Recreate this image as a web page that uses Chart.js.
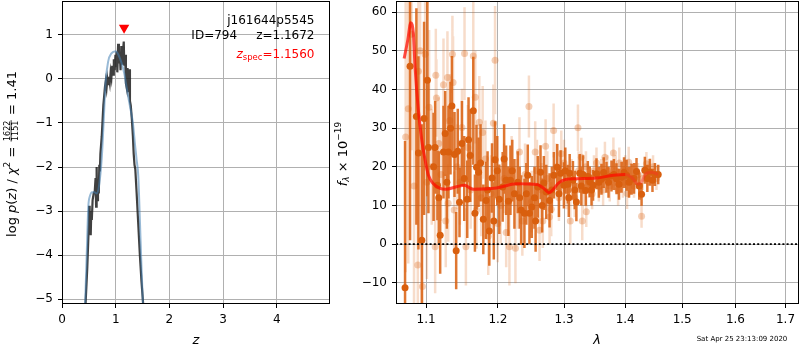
<!DOCTYPE html>
<html>
<head>
<meta charset="utf-8">
<script src="https://cdn.jsdelivr.net/npm/chart.js@4.4.1/dist/chart.umd.min.js"></script>
<style>
  html, body { margin: 0; padding: 0; background: #fff; }
  #wrap { position: relative; width: 800px; height: 350px; overflow: hidden; }
  #wrap canvas { position: absolute; left: 0; top: 0; }
</style>
</head>
<body>
<div id="wrap">
  <canvas id="pz" width="800" height="350"></canvas>
  <canvas id="spec" width="800" height="350"></canvas>
</div>
<script>
// ---- object info ----
const objName = 'j161644p5545';
const objId = 794;
const zPhot = 1.1672;
const zSpec = 1.1560;
const chi2 = 1622;
const nDof = 1151;
const stamp = 'Sat Apr 25 23:13:09 2020';

// ---- p(z) panel ----
const zTicks = [0, 1, 2, 3, 4];
const logPTicks = [-5, -4, -3, -2, -1, 0, 1];
const zRange = [0, 4.99];
const logPRange = [-5.11, 1.77];

// smooth prior-weighted curve
const pzZ   = [0.43, 0.46, 0.49, 0.52, 0.56, 0.60, 0.645, 0.69, 0.74, 0.78,
               0.81, 0.86, 0.92, 1.00, 1.05, 1.11, 1.16, 1.20, 1.24, 1.27,
               1.32, 1.36, 1.39, 1.42, 1.45, 1.48, 1.51];
const pzLog = [-5.15, -4.0, -2.9, -2.66, -2.57, -2.57, -2.6, -2.42, -1.8, -0.85,
               -0.1, 0.4, 0.58, 0.63, 0.55, 0.36, 0.12, -0.17, -0.45, -0.65,
               -1.0, -1.5, -1.84, -2.2, -3.2, -4.27, -5.2];

// chi-square based curve on the fit grid
const chiZ    = [0.435, 0.47, 0.50, 0.505, 0.515, 0.525, 0.535, 0.545, 0.555, 0.57,
                 0.59, 0.61, 0.625, 0.635, 0.645, 0.655, 0.67, 0.685, 0.695, 0.705,
                 0.715, 0.74, 0.77, 0.80, 0.815, 0.83, 0.845, 0.86, 0.875, 0.89,
                 0.905, 0.92, 0.935, 0.95, 0.965, 0.98, 0.995, 1.005, 1.02, 1.03,
                 1.045, 1.06, 1.075, 1.09, 1.105, 1.12, 1.135, 1.15, 1.16, 1.175,
                 1.19, 1.205, 1.22, 1.235, 1.25, 1.265, 1.28, 1.30, 1.32, 1.335,
                 1.35, 1.365, 1.39, 1.42, 1.45, 1.48, 1.52];
const chiLogP = [-5.2, -4.3, -3.3, -2.88, -3.5, -3.1, -3.55, -3.0, -3.2, -2.75,
                 -2.6, -2.55, -2.25, -2.9, -2.0, -2.75, -2.3, -2.6, -1.95, -2.1,
                 -1.7, -1.3, -0.6, -0.18, -0.05, -0.2, 0.0, -0.12, 0.05, -0.08,
                 0.15, 0.03, 0.3, 0.1, 0.45, 0.2, 0.55, 0.28, 0.62, 0.15,
                 0.8, 0.35, 0.6, 0.2, 0.75, 0.35, 0.62, 0.85, 0.3, 0.55,
                 -0.1, -0.2, 0.25, -0.3, 0.22, -0.5, -0.6, -0.9, -1.3, -1.7,
                 -1.95, -2.05, -2.6, -3.3, -4.0, -4.6, -5.25];
const zSpecMarkY = 1.16;

// ---- spectrum panel ----
const lamTicks = [1.1, 1.2, 1.3, 1.4, 1.5, 1.6, 1.7];
const fluxTicks = [-10, 0, 10, 20, 30, 40, 50, 60];
const lamRange = [1.0606, 1.728];
const fluxRange = [-15.5, 62.9];

// primary spectrum
const specLam = [1.0723, 1.0788, 1.0871, 1.0898, 1.0943, 1.0973, 1.1017, 1.1031, 1.1100, 1.1121,
                 1.1152, 1.1170, 1.1189, 1.1234, 1.1257, 1.1280, 1.1302, 1.1330, 1.1349, 1.1385,
                 1.1408, 1.1430, 1.1454, 1.1488, 1.1520, 1.1562, 1.1580, 1.1604, 1.1647, 1.1670,
                 1.1693, 1.1722, 1.1750, 1.1789, 1.1828, 1.1850, 1.1875, 1.1914, 1.1940, 1.1958,
                 1.1990, 1.2020, 1.2069, 1.2090, 1.2119, 1.2153, 1.2183, 1.2210, 1.2242, 1.2291,
                 1.2320, 1.2342, 1.2391, 1.2420, 1.2441, 1.2467, 1.2502, 1.2543, 1.2560, 1.2593,
                 1.2635, 1.2660, 1.2686, 1.2723, 1.2774, 1.2810, 1.2841, 1.2894, 1.2920, 1.2946,
                 1.2998, 1.3020, 1.3062, 1.3075, 1.3089, 1.3141, 1.3170, 1.3196, 1.3249, 1.3275,
                 1.3302, 1.3346, 1.3380, 1.3411, 1.3440, 1.3465, 1.3521, 1.3560, 1.3603, 1.3640,
                 1.3686, 1.3720, 1.3769, 1.3810, 1.3853, 1.3895, 1.3938, 1.3980, 1.4023, 1.4065,
                 1.4108, 1.4150, 1.4193, 1.4240, 1.4280, 1.4337, 1.4380, 1.4425, 1.4470, 1.4513, 1.4571];
const specFlux = [-11.3, 46, 33, 23.6, 1.0, 32.5, 42.4, 25, 20, 25,
                  15.2, 12, 2.3, 23.8, 28.6, 16, 23.8, 30, 35.7, 23.2,
                  -1.7, 24, 10.8, 26, 17, 11.6, 27, 22.9, 34.5, 8,
                  19.9, 18.6, 21, 6.4, 11.3, 14, 3.4, 17.1, 6, 21.8,
                  19, 11.6, 14.8, 22, 16.5, 11.1, 16.5, 19, 13, 16,
                  12, 8.8, 8, 13, 17.8, 8, 9.6, 12, 6, 14.8,
                  18.6, 10, 15.8, 13.5, 11.3, 14, 17.8, 19.9, 13, 18.3,
                  15.2, 19, 15.5, 12, 18.3, 16.5, 14, 10.9, 18.3, 15,
                  18, 13.9, 17.5, 16.1, 14, 15.2, 18.2, 16, 16.8, 18.5,
                  17.3, 16, 17.6, 18, 16.9, 15.5, 17.3, 18.5, 17.8, 16,
                  16.8, 17, 18.8, 15, 12.9, 19.1, 17, 18.6, 16.5, 18, 18];
const specErr = [38, 45, 28, 25, 30, 25, 30, 17, 14, 12,
                 9, 12, 10, 12, 11, 12, 12, 12, 13, 11,
                 10, 11, 9, 11, 11, 10, 11, 12, 14, 10,
                 11, 9, 10, 9, 10, 10, 9, 9, 10, 10,
                 9, 9, 9, 9, 9, 9, 9, 8, 9, 8,
                 8, 9, 9, 8, 8, 8, 8, 8, 8, 8,
                 7, 7, 7, 7, 7, 6, 6, 6, 6, 6,
                 6, 6, 5, 5, 5, 5, 5, 5, 5, 5,
                 5, 4, 4, 4, 4, 4, 4, 4, 4, 4,
                 4, 4, 4, 4, 4, 4, 4, 4, 4, 4,
                 4, 4, 3.5, 3.5, 3, 3.5, 3.5, 3.5, 3, 3, 2.5];

// secondary (faint) spectrum
const altLam = [1.0731, 1.0765, 1.0807, 1.0840, 1.0890, 1.0898, 1.0920, 1.0951, 1.0987, 1.1010,
                1.1040, 1.1075, 1.1121, 1.1130, 1.1138, 1.1170, 1.1200, 1.1234, 1.1265, 1.1288,
                1.1298, 1.1320, 1.1356, 1.1365, 1.1380, 1.1420, 1.1460, 1.1488, 1.1524, 1.1543,
                1.1570, 1.1610, 1.1647, 1.1675, 1.1693, 1.1732, 1.1760, 1.1780, 1.1820, 1.1860,
                1.1900, 1.1934, 1.1958, 1.1997, 1.2040, 1.2090, 1.2120, 1.2168, 1.2200, 1.2257,
                1.2280, 1.2317, 1.2360, 1.2400, 1.2459, 1.2500, 1.2554, 1.2580, 1.2620, 1.2650,
                1.2670, 1.2713, 1.2740, 1.2774, 1.2800, 1.2837, 1.2880, 1.2920, 1.2957, 1.3000,
                1.3040, 1.3099, 1.3120, 1.3170, 1.3221, 1.3230, 1.3275, 1.3290, 1.3300, 1.3350,
                1.3355, 1.3400, 1.3450, 1.3480, 1.3521, 1.3560, 1.3600, 1.3630, 1.3660, 1.3700,
                1.3740, 1.3801, 1.3840, 1.3880, 1.3900, 1.3960, 1.4000, 1.4031, 1.4059, 1.4090,
                1.4150, 1.4220, 1.4280, 1.4300, 1.4364, 1.4400, 1.4480, 1.4540];
const altFlux = [27.7, 35, 54.3, 15, -5.4, 44.7, 50, -11, 49.1, 16,
                 35.4, 20, -0.7, 43.7, 37.8, 26, 18, 41.2, 6, 43.1,
                 10.6, 32, 49.1, 41.8, 8.8, 20, 16, 30.2, 49.3, -0.7,
                 25, 14, 48.7, 38, 8.8, 31.5, 12, 28.9, 22, 2,
                 13, 31.3, 47.6, 5.3, 10, 17, 3, -0.7, 19, -1.1,
                 13, 23.8, 6, 18, 35.6, 11, 23.8, 19, 3.6, 14,
                 6, 25.3, 17, 7, 9, 29.4, 20, 12, 23.4, 21,
                 14, 6, 17, 12, 30.1, 19, 22.5, 6, 14, 20,
                 8.4, 16, 13, 19, 21, 15, 18, 14, 22.5, 19,
                 15, 23.6, 19, 14, 21, 16, 19, 13.1, 21.2, 17,
                 15, 18, 7.2, 17, 20.8, 19, 20, 17];
const altErr = [35, 40, 30, 35, 30, 35, 30, 25, 30, 25,
                20, 15, 12, 12, 10, 12, 12, 12, 12, 12,
                10, 12, 10, 12, 10, 11, 11, 10, 12, 10,
                11, 10, 14, 12, 10, 12, 10, 12, 10, 10,
                10, 10, 14, 10, 10, 9, 9, 10, 9, 9,
                9, 9, 9, 8, 8, 8, 8, 8, 8, 7,
                7, 7, 7, 7, 7, 7, 6, 6, 6, 6,
                5, 6, 5, 5, 6, 5, 5, 5, 5, 4,
                4, 4, 4, 4, 4, 4, 4, 4, 4, 4,
                4, 4, 4, 4, 4, 4, 4, 4, 4, 4,
                3, 3, 3, 3, 3, 3, 3, 3];

// best-fit template
const modelLam  = [1.0711, 1.0760, 1.0797, 1.0832, 1.0854, 1.0898, 1.0943, 1.0988, 1.1031, 1.1098,
                   1.1189, 1.1265, 1.1424, 1.1523, 1.1641, 1.1977, 1.2276, 1.2583, 1.2686, 1.2764,
                   1.2817, 1.2922, 1.3029, 1.3196, 1.3521, 1.3801, 1.4000, 1.4108, 1.4222, 1.4280,
                   1.4354, 1.4454, 1.4571];
const modelFlux = [48, 53, 57.3, 54.3, 45.7, 34.5, 26.8, 21.6, 17.8, 15.6,
                   14.4, 14.2, 14.9, 15.2, 14.2, 14.5, 15.6, 15.4, 14.4, 13.3,
                   13.9, 15.9, 16.7, 16.9, 17.1, 17.8, 18.0, 17.3, 15.5, 16.1,
                   18.2, 18.6, 18.0];

// ---------------------------------------------------------------
const FAMILY = "'DejaVu Sans', sans-serif";
Chart.defaults.font.family = FAMILY;
Chart.defaults.font.size = 12;
Chart.defaults.color = '#000';
Chart.defaults.animation = false;
Chart.defaults.events = [];

const f = (px, style) => (style ? style + ' ' : '') + px + 'px ' + FAMILY;
const fmtMinus = v => (v < 0 ? '\u2212' : '') + Math.abs(v);
const xy = (xs, ys) => xs.map((x, i) => ({ x, y: ys[i] }));
const errSegments = (xs, ys, es) => {
  const out = [];
  xs.forEach((x, i) => {
    out.push({ x, y: ys[i] - es[i] }, { x, y: ys[i] + es[i] }, { x, y: null });
  });
  return out;
};

function scaleOpts(type, range, ticks, fmt, fixed) {
  return {
    type,
    min: range[0],
    max: range[1],
    afterBuildTicks: s => { s.ticks = ticks.map(value => ({ value })); },
    afterFit: s => {
      if (fixed.w) s.width = fixed.w;
      if (fixed.h) s.height = fixed.h;
      // keep the plot frame exactly where the layout padding puts it
      s.paddingTop = 0; s.paddingBottom = 0; s.paddingLeft = 0; s.paddingRight = 0;
    },
    grid: { color: '#b0b0b0', lineWidth: 1, tickColor: '#000', tickLength: 4, tickWidth: 1 },
    border: { display: false },
    ticks: { padding: 5, autoSkip: false, maxRotation: 0, minRotation: 0,
             color: '#000', font: { size: 12 }, callback: v => fmt(v) }
  };
}

function measureRun(ctx, r) {
  ctx.font = r.font;
  if (r.frac) return Math.max(ctx.measureText(r.frac[0]).width, ctx.measureText(r.frac[1]).width) + 3;
  return ctx.measureText(r.t).width;
}
function drawRuns(ctx, runs, x, y, align, color) {
  const ws = runs.map(r => measureRun(ctx, r));
  const total = ws.reduce((a, b) => a + b, 0);
  let cx = align === 'right' ? x - total : align === 'center' ? x - total / 2 : x;
  ctx.textBaseline = 'alphabetic';
  runs.forEach((r, i) => {
    ctx.fillStyle = r.color || color || '#000';
    ctx.font = r.font;
    if (r.frac) {
      const w = ws[i], mid = cx + w / 2, ax = y - 4.4;
      ctx.textAlign = 'center';
      ctx.fillText(r.frac[0], mid, ax - 1.2);
      ctx.fillText(r.frac[1], mid, ax + 7.2);
      ctx.fillRect(cx + 1, ax - 0.4, w - 2, 0.8);
      ctx.textAlign = 'left';
    } else {
      ctx.fillText(r.t, cx, y + (r.dy || 0));
    }
    cx += ws[i];
  });
}
function drawFrame(chart) {
  const { ctx, chartArea: a } = chart;
  ctx.save();
  ctx.strokeStyle = '#000';
  ctx.lineWidth = 1;
  ctx.strokeRect(Math.round(a.left) + 0.5, Math.round(a.top) + 0.5,
                 Math.round(a.right - a.left) - 1, Math.round(a.bottom - a.top) - 1);
  ctx.restore();
}

// ---- p(z) chart ----
const pzLabels = {
  id: 'pzLabels',
  afterDraw(chart) {
    drawFrame(chart);
    const ctx = chart.ctx;
    const red = '#ff0000';
    ctx.save();
    ctx.textAlign = 'left';
    drawRuns(ctx, [{ t: objName, font: f(12) }], 314.5, 24, 'right');
    drawRuns(ctx, [{ t: 'ID=' + objId + '     z=' + zPhot.toFixed(4), font: f(12) }], 314.5, 39, 'right');
    drawRuns(ctx, [
      { t: 'z', font: f(12, 'italic'), color: red },
      { t: 'spec', font: f(8.5), dy: 2.5, color: red },
      { t: '=' + zSpec.toFixed(4), font: f(12), color: red }
    ], 314.5, 57.5, 'right');
    drawRuns(ctx, [{ t: 'z', font: f(13, 'italic') }], 196, 344, 'center');

    ctx.translate(15.5, 154);
    ctx.rotate(-Math.PI / 2);
    drawRuns(ctx, [
      { t: 'log ', font: f(13) },
      { t: 'p', font: f(13, 'italic') },
      { t: '(', font: f(13) },
      { t: 'z', font: f(13, 'italic') },
      { t: ') / ', font: f(13) },
      { t: '\u03c7', font: f(13, 'italic') },
      { t: '2', font: f(9), dy: -5.5 },
      { t: ' = ', font: f(13) },
      { frac: [String(chi2), String(nDof)], font: f(8) },
      { t: ' = ' + (chi2 / nDof).toFixed(2), font: f(13) }
    ], 0, 0, 'center');
    ctx.restore();
  }
};

new Chart(document.getElementById('pz'), {
  type: 'scatter',
  data: {
    datasets: [
      { // spec-z marker
        data: [{ x: zSpec, y: zSpecMarkY }],
        pointStyle: 'triangle', rotation: 180, pointRadius: 6,
        pointBackgroundColor: '#ff0000', pointBorderWidth: 0, order: 0, clip: false
      },
      {
        data: xy(pzZ, pzLog), showLine: true, pointRadius: 0,
        borderColor: 'rgba(70,130,180,0.55)', borderWidth: 2,
        cubicInterpolationMode: 'monotone', order: 1, clip: 0
      },
      {
        data: xy(chiZ, chiLogP), showLine: true, pointRadius: 0,
        borderColor: 'rgba(30,30,30,0.85)', borderWidth: 2.2, tension: 0,
        order: 2, clip: 0
      }
    ]
  },
  options: {
    responsive: false,
    layout: { autoPadding: false, padding: { left: 0, top: 1, right: 470, bottom: 0 } },
    plugins: { legend: { display: false }, tooltip: { enabled: false } },
    scales: {
      x: scaleOpts('linear', zRange, zTicks, v => String(v), { h: 46 }),
      y: scaleOpts('linear', logPRange, logPTicks, fmtMinus, { w: 62 })
    }
  },
  plugins: [pzLabels]
});

// ---- spectrum chart ----
const specLabels = {
  id: 'specLabels',
  afterDraw(chart) {
    drawFrame(chart);
    const ctx = chart.ctx;
    ctx.save();
    ctx.textAlign = 'left';
    drawRuns(ctx, [{ t: '\u03bb', font: f(13, 'italic') }], 597, 344, 'center');
    drawRuns(ctx, [{ t: stamp, font: f(7) }], 742, 341, 'center');
    ctx.translate(346.5, 154);
    ctx.rotate(-Math.PI / 2);
    drawRuns(ctx, [
      { t: 'f', font: f(13, 'italic') },
      { t: '\u03bb', font: f(9, 'italic'), dy: 2.5 },
      { t: ' \u00d7 10', font: f(13) },
      { t: '\u221219', font: f(9), dy: -5.5 }
    ], 0, 0, 'center');
    ctx.restore();
  }
};

new Chart(document.getElementById('spec'), {
  type: 'scatter',
  data: {
    datasets: [
      { // zero level
        data: [{ x: lamRange[0], y: 0 }, { x: lamRange[1], y: 0 }],
        showLine: true, pointRadius: 0, borderColor: '#000', borderWidth: 1.8,
        borderDash: [2, 2.2], order: 0, clip: 0
      },
      {
        data: xy(modelLam, modelFlux), showLine: true, pointRadius: 0,
        borderWidth: 3, cubicInterpolationMode: 'monotone', order: 1, clip: 0,
        borderColor: 'rgba(255,10,0,0.72)',
        segment: { borderColor: c => c.p0.parsed.x >= 1.4 ? 'rgba(255,40,40,0.38)' : 'rgba(255,10,0,0.72)' }
      },
      {
        data: xy(specLam, specFlux), pointRadius: 3.5, pointBorderWidth: 0,
        pointBackgroundColor: 'rgb(217,95,14)', order: 2, clip: 0
      },
      {
        data: errSegments(specLam, specFlux, specErr), showLine: true, pointRadius: 0,
        borderColor: 'rgba(217,95,14,0.85)', borderWidth: 2.5, spanGaps: false,
        order: 3, clip: 0
      },
      {
        data: xy(altLam, altFlux), pointRadius: 3.5, pointBorderWidth: 0,
        pointBackgroundColor: 'rgba(217,95,14,0.3)', order: 4, clip: 0
      },
      {
        data: errSegments(altLam, altFlux, altErr), showLine: true, pointRadius: 0,
        borderColor: 'rgba(217,95,14,0.22)', borderWidth: 2.5, spanGaps: false,
        order: 5, clip: 0
      }
    ]
  },
  options: {
    responsive: false,
    layout: { autoPadding: false, padding: { left: 0, top: 1, right: 1, bottom: 0 } },
    plugins: { legend: { display: false }, tooltip: { enabled: false } },
    scales: {
      x: scaleOpts('logarithmic', lamRange, lamTicks, v => Number(v).toFixed(1), { h: 46 }),
      y: scaleOpts('linear', fluxRange, fluxTicks, fmtMinus, { w: 396 })
    }
  },
  plugins: [specLabels]
});
</script>
</body>
</html>
